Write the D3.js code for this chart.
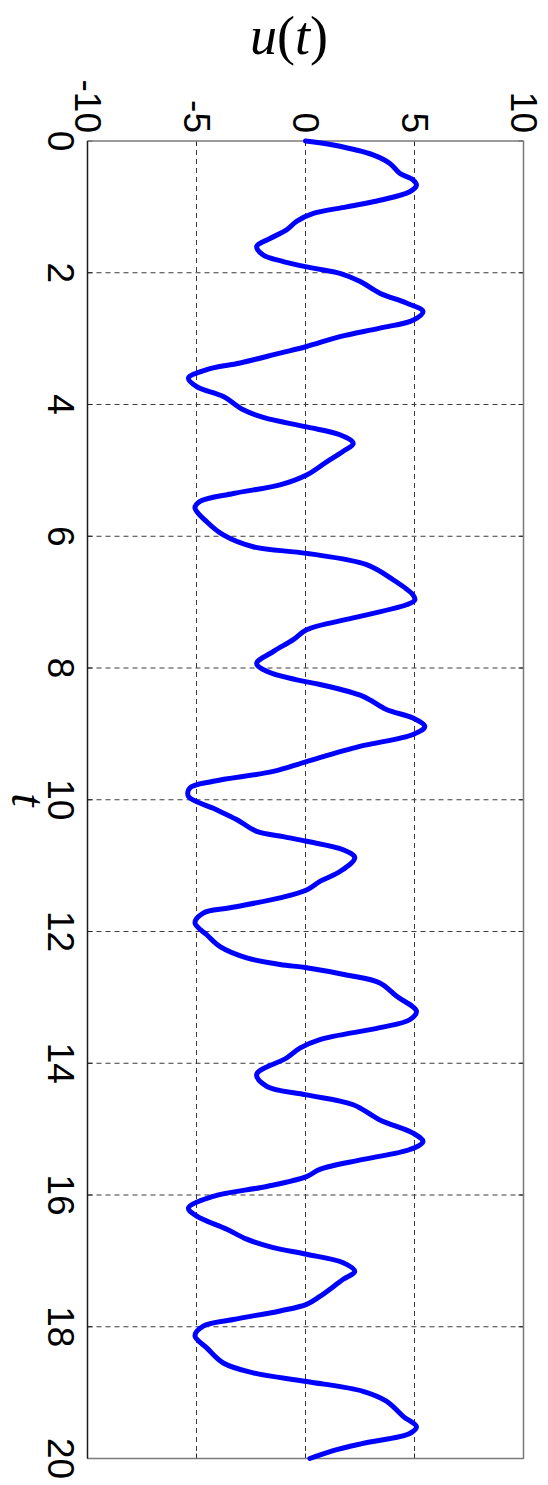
<!DOCTYPE html>
<html>
<head>
<meta charset="utf-8">
<script src="https://cdn.jsdelivr.net/npm/d3@7"></script>
<style>
  html, body { margin: 0; padding: 0; background: #fff; }
  svg { display: block; }
</style>
</head>
<body>
<svg id="chart" width="548" height="1485"></svg>
<script>
// Sampled response u(t)
const tValues = [
  0, 0.06, 0.21, 0.34, 0.49, 0.59, 0.67, 0.77, 0.90, 1.00, 1.10, 1.22, 1.35, 1.48, 1.60, 1.73, 1.83, 1.93,
  2.01, 2.13, 2.31, 2.46, 2.59, 2.72, 2.84, 2.97, 3.12, 3.22, 3.37, 3.47, 3.60, 3.73, 3.88, 4.08, 4.20, 4.34,
  4.46, 4.59, 4.71, 4.87, 5.07, 5.22, 5.35, 5.47, 5.57, 5.78, 5.98, 6.16, 6.26, 6.43, 6.66, 6.89, 6.97, 7.04,
  7.24, 7.42, 7.57, 7.75, 7.93, 8.05, 8.18, 8.25, 8.43, 8.63, 8.76, 8.89, 9.01, 9.19, 9.42, 9.57, 9.72, 9.82,
  9.95, 10.13, 10.30, 10.48, 10.56, 10.63, 10.76, 10.88, 11.09, 11.24, 11.37, 11.49, 11.64, 11.72, 11.87,
  12.05, 12.23, 12.40, 12.50, 12.55, 12.66, 12.78, 12.98, 13.21, 13.34, 13.46, 13.64, 13.77, 13.92, 14.17,
  14.35, 14.48, 14.63, 14.86, 15.06, 15.19, 15.31, 15.46, 15.61, 15.72, 15.87, 16.02, 16.20, 16.32, 16.52,
  16.67, 16.80, 16.90, 17.03, 17.16, 17.28, 17.54, 17.66, 17.76, 17.89, 17.99, 18.14, 18.32, 18.55, 18.70,
  18.83, 18.98, 19.13, 19.36, 19.52, 19.62, 19.77, 19.88, 20.0
];
const uValues = [
  0, 1.27, 3.10, 3.87, 4.32, 4.93, 5.09, 4.78, 3.41, 1.88, 0.36, -0.41, -0.87, -1.63, -2.24, -1.94, -1.02, 0.35,
  1.58, 2.49, 3.41, 4.63, 5.39, 4.93, 3.41, 1.58, 0.05, -1.17, -3.00, -4.53, -5.37, -4.99, -3.77, -2.85, -1.90, 0.05,
  1.58, 2.19, 1.73, 0.97, 0.05, -1.17, -3.31, -4.84, -5.07, -4.53, -3.77, -2.40, 0.05, 2.80, 4.02, 4.93, 5.01, 4.63,
  2.19, 0.05, -0.56, -1.48, -2.24, -1.78, -0.40, 0.66, 2.64, 3.71, 4.93, 5.47, 4.93, 2.49, 0.05, -1.48, -4.23, -5.30,
  -5.37, -4.23, -3.16, -2.24, -1.02, 0.05, 1.73, 2.26, 1.58, 0.66, 0.05, -1.17, -3.46, -4.69, -5.07,
  -4.53, -3.92, -2.70, -1.17, 0.05, 1.88, 3.41, 4.17, 5.09, 4.78, 3.41, 0.66, -0.26, -0.87, -2.24,
  -1.78, 0.05, 2.19, 3.41, 4.93, 5.39, 4.78, 2.64, 0.66, 0.05, -1.78, -4.23, -5.37, -4.99, -3.61,
  -2.70, -1.48, 0.05, 1.73, 2.26, 1.73, 0.66, 0.05, -1.17, -3.31, -4.69, -5.07, -4.53, -3.77, -2.40,
  0.05, 2.64, 3.71, 4.48, 5.09, 4.78, 2.64, 1.27, 0.20
];
const uTicks = [-10, -5, 0, 5, 10];
const tTicks = [0, 2, 4, 6, 8, 10, 12, 14, 16, 18, 20];
const tLabel = "t";

const svg = d3.select("#chart");

// Rotated layout: t runs downward, u runs left-to-right
const plotLeft = 87.5, plotRight = 523.5, plotTop = 141, plotBottom = 1458.5;
const x = d3.scaleLinear().domain([-10, 10]).range([plotLeft, plotRight]);
const y = d3.scaleLinear().domain([0, 20]).range([plotTop, plotBottom]);

const labelFont = "'Liberation Sans', Arial, Helvetica, sans-serif";
const mathFont = "'Liberation Serif', 'Times New Roman', serif";

// Dashed grid
const grid = svg.append("g")
  .attr("stroke", "#3a3a3a")
  .attr("stroke-width", 1)
  .attr("stroke-dasharray", "5,4");
grid.selectAll("line.gu")
  .data(uTicks.filter(d => d > -10 && d < 10))
  .join("line")
  .attr("class", "gu")
  .attr("x1", d => x(d)).attr("x2", d => x(d))
  .attr("y1", plotTop).attr("y2", plotBottom);
grid.selectAll("line.gt")
  .data(tTicks.filter(d => d > 0 && d < 20))
  .join("line")
  .attr("class", "gt")
  .attr("x1", plotLeft).attr("x2", plotRight)
  .attr("y1", d => y(d)).attr("y2", d => y(d));

// Inward tick marks on the frame
const tickLen = 5;
const ticks = svg.append("g").attr("stroke", "#222").attr("stroke-width", 1);
tTicks.forEach(d => {
  ticks.append("line").attr("x1", plotLeft).attr("x2", plotLeft + tickLen).attr("y1", y(d)).attr("y2", y(d));
  ticks.append("line").attr("x1", plotRight).attr("x2", plotRight - tickLen).attr("y1", y(d)).attr("y2", y(d));
});
uTicks.forEach(d => {
  ticks.append("line").attr("x1", x(d)).attr("x2", x(d)).attr("y1", plotTop).attr("y2", plotTop + tickLen);
  ticks.append("line").attr("x1", x(d)).attr("x2", x(d)).attr("y1", plotBottom).attr("y2", plotBottom - tickLen);
});

// Frame
const frame = svg.append("g").attr("stroke-width", 1.5);
frame.append("line").attr("x1", plotLeft).attr("x2", plotRight).attr("y1", plotTop).attr("y2", plotTop)
  .attr("stroke", "#7a7a7a");
frame.append("line").attr("x1", plotLeft).attr("x2", plotRight).attr("y1", plotBottom).attr("y2", plotBottom)
  .attr("stroke", "#7a7a7a");
frame.append("line").attr("x1", plotRight).attr("x2", plotRight).attr("y1", plotTop).attr("y2", plotBottom)
  .attr("stroke", "#7a7a7a");
frame.append("line").attr("x1", plotLeft).attr("x2", plotLeft).attr("y1", plotTop).attr("y2", plotBottom)
  .attr("stroke", "#1a1a1a");

// Signal curve
const pts = tValues.map((t, i) => ({ t, u: uValues[i] }));
const line = d3.line()
  .x(d => x(d.u))
  .y(d => y(d.t))
  .curve(d3.curveCatmullRom.alpha(0.5));
svg.append("path")
  .datum(pts)
  .attr("d", line)
  .attr("fill", "none")
  .attr("stroke", "#0000ff")
  .attr("stroke-width", 5)
  .attr("stroke-linejoin", "round")
  .attr("stroke-linecap", "round");

// u tick labels (rotated, ending just above the frame)
svg.append("g").selectAll("text")
  .data(uTicks)
  .join("text")
  .attr("transform", d => `translate(${x(d)},${plotTop - 8}) rotate(90)`)
  .attr("text-anchor", "end")
  .attr("dominant-baseline", "central")
  .attr("font-family", labelFont)
  .attr("font-size", 37)
  .attr("fill", "#000")
  .text(d => d);

// t tick labels (rotated)
svg.append("g").selectAll("text")
  .data(tTicks)
  .join("text")
  .attr("transform", d => `translate(60,${y(d)}) rotate(90)`)
  .attr("text-anchor", "middle")
  .attr("dominant-baseline", "central")
  .attr("font-family", labelFont)
  .attr("font-size", 37)
  .attr("fill", "#000")
  .text(d => d);

// Axis titles
const ut = svg.append("text")
  .attr("x", 289)
  .attr("y", 54)
  .attr("text-anchor", "middle")
  .attr("font-family", mathFont)
  .attr("font-size", 54)
  .attr("fill", "#000");
ut.append("tspan").attr("font-style", "italic").text("u");
ut.append("tspan").text("(");
ut.append("tspan").attr("font-style", "italic").text("t");
ut.append("tspan").text(")");

svg.append("text")
  .attr("transform", `translate(12,800) rotate(90)`)
  .attr("text-anchor", "middle")
  .attr("font-family", mathFont)
  .attr("font-style", "italic")
  .attr("font-size", 48)
  .attr("fill", "#000")
  .text(tLabel);
</script>
</body>
</html>
